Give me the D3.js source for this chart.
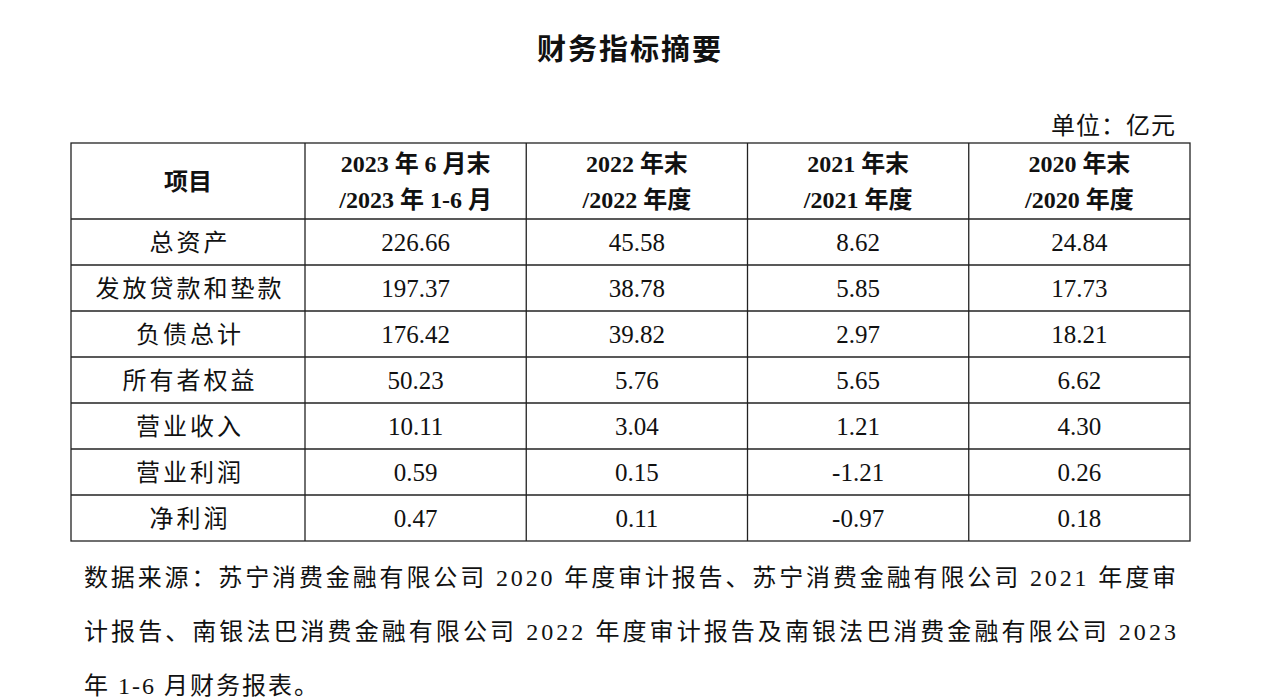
<!DOCTYPE html>
<html><head><meta charset="utf-8">
<script src="https://cdn.jsdelivr.net/npm/d3@7"></script>
<style>body{margin:0;background:#fff}</style></head>
<body><svg id="chart" width="1269" height="699"></svg>
<script>
const title = "财务指标摘要";
const unit = "单位：亿元";
const headers = [["项目"], ["2023 年 6 月末", "/2023 年 1-6 月"], ["2022 年末", "/2022 年度"], ["2021 年末", "/2021 年度"], ["2020 年末", "/2020 年度"]];
const items = ["总资产", "发放贷款和垫款", "负债总计", "所有者权益", "营业收入", "营业利润", "净利润"];
const v2023 = ["226.66", "197.37", "176.42", "50.23", "10.11", "0.59", "0.47"];
const v2022 = ["45.58", "38.78", "39.82", "5.76", "3.04", "0.15", "0.11"];
const v2021 = ["8.62", "5.85", "2.97", "5.65", "1.21", "-1.21", "-0.97"];
const v2020 = ["24.84", "17.73", "18.21", "6.62", "4.30", "0.26", "0.18"];
const notes = ["数据来源：苏宁消费金融有限公司 2020 年度审计报告、苏宁消费金融有限公司 2021 年度审",
  "计报告、南银法巴消费金融有限公司 2022 年度审计报告及南银法巴消费金融有限公司 2023",
  "年 1-6 月财务报表。"];

const font = "'Liberation Serif','Noto Sans CJK SC',serif";
const svg = d3.select("#chart").attr("font-family", font).attr("fill", "#111");
const L = 71, R = 1190, T = 143, H = 219, B = 541, C1 = 305;

svg.append("text").attr("x", 630).attr("y", 60).attr("text-anchor", "middle")
  .attr("font-size", 29).attr("font-weight", "bold").attr("letter-spacing", 2).text(title);
svg.append("text").attr("x", 1176).attr("y", 134).attr("text-anchor", "end")
  .attr("font-size", 24).attr("letter-spacing", 1).text(unit);

const cols = d3.scaleBand().domain([0, 1, 2, 3]).range([C1, R]);
const rows = d3.scaleBand().domain(d3.range(items.length)).range([H, B]);
const series = [v2023, v2022, v2021, v2020];
const colX = i => i === 0 ? [L, C1] : [cols(i - 1), cols(i - 1) + cols.bandwidth()];

// grid
const g = svg.append("g").attr("stroke", "#222").attr("stroke-width", 1.3);
g.append("rect").attr("x", L).attr("y", T).attr("width", R - L).attr("height", B - T).attr("fill", "none");
[H, ...d3.range(1, items.length).map(i => rows(i))].forEach(y =>
  g.append("line").attr("x1", L).attr("x2", R).attr("y1", y).attr("y2", y));
[C1, ...[1, 2, 3].map(i => cols(i))].forEach(x =>
  g.append("line").attr("x1", x).attr("x2", x).attr("y1", T).attr("y2", B));

// headers
headers.forEach((h, i) => {
  const [a, b] = colX(i), cx = (a + b) / 2;
  const t = svg.append("text").attr("x", cx).attr("text-anchor", "middle")
    .attr("font-size", 24).attr("font-weight", "bold");
  if (h.length === 1) t.attr("y", 190).text(h[0]);
  else h.forEach((s, k) => t.append("tspan").attr("x", cx).attr("y", k ? 208 : 172).text(s));
});

// body
items.forEach((it, r) => {
  const y = rows(r) + rows.bandwidth() / 2 + 9;
  svg.append("text").attr("x", (L + C1) / 2 + 2).attr("y", y).attr("text-anchor", "middle")
    .attr("font-size", 24).attr("letter-spacing", 3).text(it);
  series.forEach((s, c) => {
    svg.append("text").attr("x", cols(c) + cols.bandwidth() / 2).attr("y", y)
      .attr("text-anchor", "middle").attr("font-size", 25).text(s[r]);
  });
});

// notes
notes.forEach((n, i) => {
  const t = svg.append("text").attr("x", 84).attr("y", 586 + i * 54).attr("font-size", 24).text(n);
  if (i < 2) t.attr("textLength", 1092).attr("lengthAdjust", "spacing");
  else t.attr("letter-spacing", 2);
});
</script></body></html>
